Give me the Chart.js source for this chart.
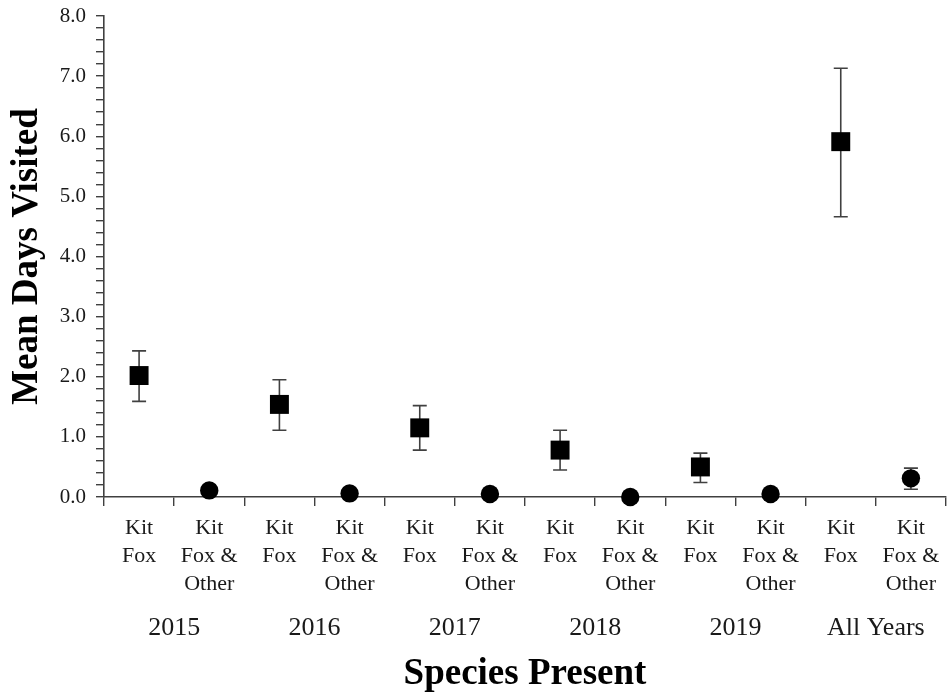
<!DOCTYPE html>
<html>
<head>
<meta charset="utf-8">
<script src="https://cdn.jsdelivr.net/npm/chart.js@4"></script>
<style>
  html, body { margin: 0; padding: 0; background: #fff; }
  #wrap { width: 949px; height: 698px; position: relative; }
</style>
</head>
<body>
<div id="wrap"><canvas id="visitChart"></canvas></div>
<script>
// categories along the x axis (two per year group)
const categories = [
  ['Kit', 'Fox'], ['Kit', 'Fox &', 'Other'],
  ['Kit', 'Fox'], ['Kit', 'Fox &', 'Other'],
  ['Kit', 'Fox'], ['Kit', 'Fox &', 'Other'],
  ['Kit', 'Fox'], ['Kit', 'Fox &', 'Other'],
  ['Kit', 'Fox'], ['Kit', 'Fox &', 'Other'],
  ['Kit', 'Fox'], ['Kit', 'Fox &', 'Other'],
];
const years = ['2015', '2016', '2017', '2018', '2019', 'All Years'];

// mean days visited, one per year group
const kitFoxMean = [2.02, 1.54, 1.15, 0.78, 0.50, 5.91];
const kitFoxLow  = [1.59, 1.11, 0.78, 0.45, 0.24, 4.66];
const kitFoxHigh = [2.43, 1.95, 1.52, 1.11, 0.73, 7.13];

const otherMean = [0.11, 0.06, 0.05, 0.00, 0.05, 0.31];
const otherLow  = [null, null, null, null, null, 0.13];
const otherHigh = [null, null, null, null, null, 0.48];

const yTicksMin = 0;
const yTicksMax = 8;
const yMinorStep = 0.2;

const SERIF = '"Liberation Serif", "Times New Roman", serif';
const AXIS = '#404040';

// spread a per-year array over the 12 categories
const spread = (arr, slot) => categories.map((c, i) => (i % 2 === slot ? arr[Math.floor(i / 2)] : null));

// error bars drawn under the markers
const errorBars = {
  id: 'errorBars',
  beforeDatasetsDraw(chart) {
    const { ctx, scales: { x, y } } = chart;
    ctx.save();
    ctx.strokeStyle = AXIS;
    ctx.lineWidth = 1.6;
    chart.data.datasets.forEach((ds) => {
      ds.errLow.forEach((lo, i) => {
        const hi = ds.errHigh[i];
        if (lo == null || hi == null) return;
        const px = x.getPixelForValue(i);
        const pLo = y.getPixelForValue(lo);
        const pHi = y.getPixelForValue(hi);
        ctx.beginPath();
        ctx.moveTo(px, pLo); ctx.lineTo(px, pHi);
        ctx.moveTo(px - 7, pLo); ctx.lineTo(px + 7, pLo);
        ctx.moveTo(px - 7, pHi); ctx.lineTo(px + 7, pHi);
        ctx.stroke();
      });
    });
    ctx.restore();
  },
};

// keep the plot box where the layout padding puts it
const noEdgePad = (s) => { s.paddingLeft = 0; s.paddingRight = 0; s.paddingTop = 0; s.paddingBottom = 0; };

new Chart(document.getElementById('visitChart'), {
  type: 'line',
  data: {
    labels: categories,
    datasets: [
      {
        label: 'Kit Fox',
        data: spread(kitFoxMean, 0),
        errLow: spread(kitFoxLow, 0),
        errHigh: spread(kitFoxHigh, 0),
        showLine: false,
        pointStyle: 'rect',
        pointRadius: 13.4,
        pointHoverRadius: 13.4,
        backgroundColor: '#000',
        borderColor: '#000',
        borderWidth: 0,
        clip: false,
      },
      {
        label: 'Kit Fox & Other',
        data: spread(otherMean, 1),
        errLow: spread(otherLow, 1),
        errHigh: spread(otherHigh, 1),
        showLine: false,
        pointStyle: 'circle',
        pointRadius: 9.2,
        pointHoverRadius: 9.2,
        backgroundColor: '#000',
        borderColor: '#000',
        borderWidth: 0,
        clip: false,
      },
    ],
  },
  options: {
    responsive: true,
    maintainAspectRatio: false,
    animation: false,
    layout: { autoPadding: false, padding: { top: 16, right: 3, bottom: 0, left: 0 } },
    plugins: {
      legend: { display: false },
      tooltip: { enabled: false },
    },
    scales: {
      y: {
        min: yTicksMin,
        max: yTicksMax,
        afterFit: (s) => { s.width = 104; noEdgePad(s); },
        border: { display: true, color: AXIS, width: 1.6 },
        grid: { drawOnChartArea: false, drawTicks: true, tickLength: 8, color: AXIS, lineWidth: 1.4 },
        ticks: {
          stepSize: yMinorStep,
          autoSkip: false,
          padding: 10,
          color: '#1a1a1a',
          font: { family: SERIF, size: 21 },
          callback: (v) => (Math.abs(v - Math.round(v)) < 1e-6 ? Number(v).toFixed(1) : ''),
        },
        title: {
          display: true,
          text: 'Mean Days Visited',
          color: '#000',
          font: { family: SERIF, size: 37, weight: 'bold' },
          padding: { top: 5, bottom: 0 },
        },
      },
      x: {
        type: 'category',
        position: 'bottom',
        weight: 0,
        offset: true,
        afterFit: (s) => { s.height = 100; noEdgePad(s); },
        border: { display: true, color: AXIS, width: 1.6 },
        grid: { offset: true, drawOnChartArea: false, drawTicks: true, tickLength: 9, color: AXIS, lineWidth: 1.4 },
        ticks: {
          autoSkip: false,
          maxRotation: 0,
          padding: 8,
          color: '#1a1a1a',
          font: { family: SERIF, size: 22, lineHeight: 1.27 },
        },
      },
      x2: {
        type: 'category',
        position: 'bottom',
        weight: 1,
        labels: years,
        offset: true,
        afterFit: (s) => { s.height = 101; noEdgePad(s); },
        border: { display: false },
        grid: { display: false, drawTicks: false, tickLength: 0 },
        ticks: {
          autoSkip: false,
          maxRotation: 0,
          padding: 16,
          color: '#1a1a1a',
          font: { family: SERIF, size: 26, lineHeight: 1.2 },
        },
        title: {
          display: true,
          text: 'Species Present',
          color: '#000',
          font: { family: SERIF, size: 37, weight: 'bold' },
          padding: { top: 0, bottom: 1.5 },
        },
      },
    },
  },
  plugins: [errorBars],
});
</script>
</body>
</html>
